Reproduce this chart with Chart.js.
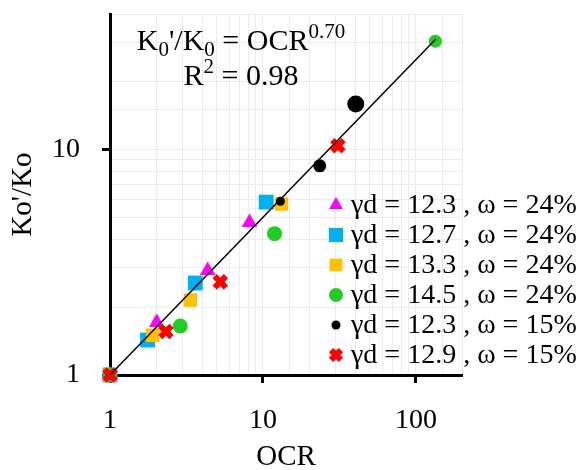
<!DOCTYPE html>
<html>
<head>
<meta charset="utf-8">
<script src="https://cdn.jsdelivr.net/npm/chart.js@4.4.1/dist/chart.umd.min.js"></script>
<style>
  html, body { margin: 0; padding: 0; background: #fff; }
  #wrap { width: 587px; height: 470px; }
</style>
</head>
<body>
<div id="wrap"><canvas id="chart"></canvas></div>
<script>
// OCR / Ko'/Ko values for each soil sample
var ocr_g123_w24 = [1, 2.02, 4.35, 8.16];
var ko_g123_w24  = [1, 1.71, 2.91, 4.75];

var ocr_g127_w24 = [1, 1.76, 3.61, 10.5];
var ko_g127_w24  = [1, 1.43, 2.56, 5.85];

var ocr_g133_w24 = [1, 1.9, 3.35, 13.2];
var ko_g133_w24  = [1, 1.5, 2.15, 5.74];

var ocr_g145_w24 = [1, 2.88, 11.9, 134];
var ko_g145_w24  = [1, 1.65, 4.24, 30.3];

var ocr_g123_w15 = [1, 13.0, 23.5, 40.4];
var ko_g123_w15  = [1, 5.9, 8.48, 15.96];

var ocr_g129_w15 = [1, 2.32, 5.26, 30.9];
var ko_g129_w15  = [1, 1.56, 2.59, 10.4];

// power law fit Ko'/Ko = OCR^0.70
var fitExponent = 0.70;
var fitR2 = 0.98;
var fitOcr = [1, 135];

var seriesLabels = [
  'γd = 12.3 , ω = 24%',
  'γd = 12.7 , ω = 24%',
  'γd = 13.3 , ω = 24%',
  'γd = 14.5 , ω = 24%',
  'γd = 12.3 , ω = 15%',
  'γd = 12.9 , ω = 15%'
];
var xTickLabels = [1, 10, 100];
var yTickLabels = [1, 10];

function pts(xs, ys) {
  return xs.map(function (x, i) { return { x: x, y: ys[i] }; });
}

var SERIF = "'Liberation Serif', 'DejaVu Serif', serif";

// legend drawn on the right, partly outside the plot area
var sideLegend = {
  id: 'sideLegend',
  afterDraw: function (chart) {
    var ctx = chart.ctx;
    var x0 = 336, y0 = 205, step = 30;
    ctx.save();
    ctx.font = '28px ' + SERIF;
    ctx.textBaseline = 'middle';
    ctx.textAlign = 'left';
    for (var i = 0; i < seriesLabels.length; i++) {
      var ds = chart.data.datasets[i];
      var y = y0 + i * step;
      ctx.fillStyle = ds.backgroundColor;
      ctx.strokeStyle = ds.borderColor;
      ctx.lineWidth = ds.legendBorder;
      Chart.helpers.drawPoint(ctx, {
        pointStyle: ds.pointStyle,
        radius: ds.legendRadius,
        borderWidth: ds.legendBorder,
        rotation: 0
      }, x0, y);
      ctx.fillStyle = '#000';
      ctx.fillText(seriesLabels[i], 351, y + 1);
    }
    ctx.restore();
  }
};

// fit equation with sub/superscripts
var equation = {
  id: 'equation',
  afterDraw: function (chart) {
    var ctx = chart.ctx;
    function line(parts, cx, baseY) {
      var total = 0;
      parts.forEach(function (p) {
        ctx.font = (p.s || 30) + 'px ' + SERIF;
        p.w = ctx.measureText(p.t).width;
        total += p.w;
      });
      var x = cx - total / 2;
      parts.forEach(function (p) {
        ctx.font = (p.s || 30) + 'px ' + SERIF;
        ctx.fillText(p.t, x, baseY + (p.dy || 0));
        x += p.w;
      });
    }
    ctx.save();
    ctx.fillStyle = '#000';
    ctx.textBaseline = 'alphabetic';
    ctx.textAlign = 'left';
    line([
      { t: 'K' }, { t: '0', s: 21, dy: 6 }, { t: '\'/K' }, { t: '0', s: 21, dy: 6 },
      { t: ' = OCR' }, { t: fitExponent.toFixed(2), s: 21, dy: -12 }
    ], 241, 50);
    line([
      { t: 'R' }, { t: '2', s: 21, dy: -12 }, { t: ' = ' + fitR2.toFixed(2) }
    ], 241, 85);
    ctx.restore();
  }
};

var markerCommon = { showLine: false, clip: false };

var datasets = [
  Object.assign({
    label: seriesLabels[0], data: pts(ocr_g123_w24, ko_g123_w24),
    pointStyle: 'triangle', pointRadius: 9, backgroundColor: '#ff00ff', borderColor: '#ff00ff',
    borderWidth: 0, legendRadius: 8, legendBorder: 0, order: 6
  }, markerCommon),
  Object.assign({
    label: seriesLabels[1], data: pts(ocr_g127_w24, ko_g127_w24),
    pointStyle: 'rect', pointRadius: 10.5, backgroundColor: '#00b0f0', borderColor: '#00b0f0',
    borderWidth: 0, legendRadius: 10, legendBorder: 0, order: 5
  }, markerCommon),
  Object.assign({
    label: seriesLabels[2], data: pts(ocr_g133_w24, ko_g133_w24),
    pointStyle: 'rect', pointRadius: 9.5, backgroundColor: '#ffc000', borderColor: '#ffc000',
    borderWidth: 0, legendRadius: 9, legendBorder: 0, order: 4
  }, markerCommon),
  Object.assign({
    label: seriesLabels[3], data: pts(ocr_g145_w24, ko_g145_w24),
    pointStyle: 'circle', pointRadius: [7.5, 7.5, 7.5, 6.5], backgroundColor: '#22cc22', borderColor: '#22cc22',
    borderWidth: 0, legendRadius: 7, legendBorder: 0, order: 3
  }, markerCommon),
  Object.assign({
    label: seriesLabels[4], data: pts(ocr_g123_w15, ko_g123_w15),
    pointStyle: 'circle', pointRadius: [4.5, 4.5, 6.5, 8.5], backgroundColor: '#000000', borderColor: '#000000',
    borderWidth: 0, legendRadius: 4.5, legendBorder: 0, order: 2
  }, markerCommon),
  Object.assign({
    label: seriesLabels[5], data: pts(ocr_g129_w15, ko_g129_w15),
    pointStyle: 'crossRot', pointRadius: 8, backgroundColor: '#ff0000', borderColor: '#ff0000',
    borderWidth: 6, legendRadius: 7, legendBorder: 6, order: 1
  }, markerCommon),
  {
    label: 'fit', type: 'line',
    data: pts(fitOcr, fitOcr.map(function (x) { return Math.pow(x, fitExponent); })),
    borderColor: '#000', borderWidth: 1.5, pointRadius: 0, showLine: true, fill: false, order: 0
  }
];

function majorOnly(list) {
  return function (ctx) {
    return list.indexOf(Math.round(ctx.tick.value)) >= 0 ? '#000' : 'rgba(0,0,0,0)';
  };
}

new Chart(document.getElementById('chart'), {
  type: 'scatter',
  data: { datasets: datasets },
  plugins: [equation, sideLegend],
  options: {
    responsive: true,
    maintainAspectRatio: false,
    animation: false,
    layout: { padding: { top: 10, right: 125, left: 0, bottom: 0 } },
    plugins: { legend: { display: false }, tooltip: { enabled: false } },
    scales: {
      x: {
        type: 'logarithmic', min: 1, max: 200,
        afterFit: function (s) { s.height = 95; s.paddingLeft = 0; s.paddingRight = 0; },
        border: { display: true, color: '#000', width: 3 },
        grid: { color: '#ececec', lineWidth: 1, tickLength: 8, tickWidth: 3, tickColor: majorOnly(xTickLabels) },
        ticks: {
          autoSkip: false, maxRotation: 0, padding: 21, color: '#000',
          font: { family: SERIF, size: 28 },
          callback: function (v) { return xTickLabels.indexOf(Math.round(v)) >= 0 ? String(Math.round(v)) : ''; }
        },
        title: { display: true, text: 'OCR', color: '#000', font: { family: SERIF, size: 29, lineHeight: 0.9 }, padding: { top: 0, bottom: 0 } }
      },
      y: {
        type: 'logarithmic', min: 1, max: 40,
        afterFit: function (s) { s.width = 110; s.paddingTop = 0; s.paddingBottom = 0; },
        border: { display: true, color: '#000', width: 3 },
        grid: { color: '#ececec', lineWidth: 1, tickLength: 8, tickWidth: 3, tickColor: majorOnly(yTickLabels) },
        ticks: {
          autoSkip: false, padding: 22, color: '#000',
          font: { family: SERIF, size: 28 },
          callback: function (v) { return yTickLabels.indexOf(Math.round(v)) >= 0 ? String(Math.round(v)) : ''; }
        },
        title: { display: true, text: 'Ko\'/Ko', color: '#000', font: { family: SERIF, size: 29 }, padding: { top: 6, bottom: 0 } }
      }
    }
  }
});
</script>
</body>
</html>
